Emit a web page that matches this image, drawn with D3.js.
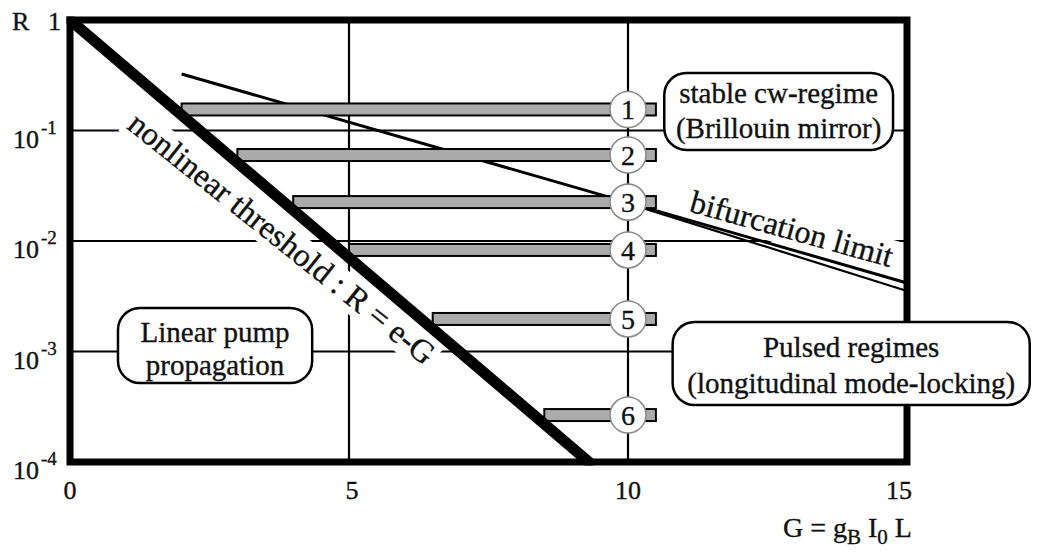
<!DOCTYPE html>
<html><head><meta charset="utf-8">
<script src="https://cdn.jsdelivr.net/npm/d3@7"></script>
<style>
body{margin:0;background:#fff;}
svg{display:block;font-family:"Liberation Serif","Times New Roman",serif;}
svg text{stroke:#111;stroke-width:0.35px;}
</style></head><body>
<svg id="chart" width="1037" height="557"></svg>
<script>
// ---- data ----
const xTicks = [0, 5, 10, 15];
const xTickLabels = ["0", "5", "10", "15"];
const yTicks = [1, 1e-1, 1e-2, 1e-3, 1e-4];
const yTickBase = ["1", "10", "10", "10", "10"];
const yTickExp = ["", "-1", "-2", "-3", "-4"];
const xGridValues = [5, 10];
const yGridValues = [1e-1, 1e-2, 1e-3];
const barIds = [1, 2, 3, 4, 5, 6];
const barStartG = [2.0, 3.0, 4.0, 5.0, 6.5, 8.5];
const barEndG = [10.5, 10.5, 10.5, 10.5, 10.5, 10.5];
const barR = [0.155, 0.060, 0.0225, 0.0083, 0.00197, 0.000266];
const markerG = 10;
const thresholdG = [0, 9.3];
const thresholdR = [1, 1e-4];
const bifurcationG = [2.0, 15];
const bifurcationR = [0.325, 0.00417];
const bifurcation2G = [9.5, 15];
const bifurcation2R = [0.0263, 0.00353];
const boxNames = ["stable", "linear", "pulsed"];
const boxG0 = [10.65, 0.86, 10.8];
const boxG1 = [14.75, 4.34, 17.2];
const boxRTop = [0.331, 0.00248, 0.00185];
const boxRBottom = [0.0667, 0.000519, 0.000328];
const boxLine1 = ["stable cw-regime", "Linear pump", "Pulsed regimes"];
const boxLine2 = ["(Brillouin mirror)", "propagation", "(longitudinal mode-locking)"];
const thresholdLabel = "nonlinear threshold : R = e-G";
const thresholdLabelG = 1.0, thresholdLabelR = 0.106;
const bifLabel = "bifurcation limit";
const bifLabelG = 11.08, bifLabelR = 0.0186;

// ---- layout ----
const svg = d3.select("#chart");
const x = d3.scaleLinear().domain([0, 15]).range([70, 907]);
const y = d3.scaleLog().domain([1e-4, 1]).range([462, 20]);

const defs = svg.append("defs");
defs.append("clipPath").attr("id", "plotclip").append("rect")
  .attr("x", x(0) - 3.5).attr("y", y(1) - 3.5)
  .attr("width", x(15) - x(0) + 7).attr("height", y(1e-4) - y(1) + 7);

const gGrid = svg.append("g");
const gBg = svg.append("g");
const gLines = svg.append("g");
const gBars = svg.append("g");
const gThresh = svg.append("g").attr("clip-path", "url(#plotclip)");
const gFrame = svg.append("g");
const gMarks = svg.append("g");
const gBoxes = svg.append("g");
const gText = svg.append("g");

// gridlines
gGrid.selectAll("line.h").data(yGridValues).join("line")
  .attr("x1", x(0)).attr("x2", x(15))
  .attr("y1", d => y(d)).attr("y2", d => y(d))
  .attr("stroke", "#000").attr("stroke-width", 2.2);
gGrid.selectAll("line.v").data(xGridValues).join("line")
  .attr("x1", d => x(d)).attr("x2", d => x(d))
  .attr("y1", y(1)).attr("y2", y(1e-4))
  .attr("stroke", "#000").attr("stroke-width", 2.2);

// bifurcation lines
const line = d3.line().x(d => x(d[0])).y(d => y(d[1]));
gLines.append("path").attr("d", line(d3.zip(bifurcationG, bifurcationR)))
  .attr("fill", "none").attr("stroke", "#000").attr("stroke-width", 3);
gLines.append("path").attr("d", line(d3.zip(bifurcation2G, bifurcation2R)))
  .attr("fill", "none").attr("stroke", "#000").attr("stroke-width", 2.2);

// bars
const bh = 12;
gBars.selectAll("rect").data(barIds).join("rect")
  .attr("x", (d, i) => x(barStartG[i]))
  .attr("y", (d, i) => y(barR[i]) - bh / 2)
  .attr("width", (d, i) => x(barEndG[i]) - x(barStartG[i]))
  .attr("height", bh)
  .attr("fill", "#ababab").attr("stroke", "#000").attr("stroke-width", 2);

// threshold line
gThresh.append("path").attr("d", line(d3.zip(thresholdG, thresholdR)))
  .attr("fill", "none").attr("stroke", "#000").attr("stroke-width", 11)
  .attr("stroke-linecap", "square");

// frame
gFrame.append("rect").attr("x", x(0)).attr("y", y(1))
  .attr("width", x(15) - x(0)).attr("height", y(1e-4) - y(1))
  .attr("fill", "none").attr("stroke", "#000").attr("stroke-width", 7);

// markers
gMarks.selectAll("circle").data(barIds).join("circle")
  .attr("cx", x(markerG)).attr("cy", (d, i) => y(barR[i]))
  .attr("r", 18).attr("fill", "#fff").attr("stroke", "#8c8c8c").attr("stroke-width", 1.6);
gMarks.selectAll("text").data(barIds).join("text")
  .attr("x", x(markerG)).attr("y", (d, i) => y(barR[i]) + 10)
  .attr("text-anchor", "middle").attr("font-size", 28).attr("fill", "#111")
  .text(d => d);

// boxes
boxNames.forEach((n, i) => {
  const bx0 = x(boxG0[i]), bx1 = x(boxG1[i]), by0 = y(boxRTop[i]), by1 = y(boxRBottom[i]);
  gBoxes.append("rect").attr("x", bx0).attr("y", by0)
    .attr("width", bx1 - bx0).attr("height", by1 - by0)
    .attr("rx", 22).attr("ry", 22)
    .attr("fill", "#fff").attr("stroke", "#000").attr("stroke-width", 2.5);
  const cx = (bx0 + bx1) / 2;
  const off1 = [30, 34, 35][i], off2 = [65, 67, 71][i];
  gBoxes.append("text").attr("x", cx).attr("y", by0 + off1)
    .attr("text-anchor", "middle").attr("font-size", 29).attr("fill", "#111").text(boxLine1[i]);
  gBoxes.append("text").attr("x", cx).attr("y", by0 + off2)
    .attr("text-anchor", "middle").attr("font-size", 29).attr("fill", "#111").text(boxLine2[i]);
});

// rotated labels with background
function rotLabel(txt, G, R, angle, size) {
  const tr = `translate(${x(G)},${y(R)}) rotate(${angle})`;
  const g = gText.append("g").attr("transform", tr);
  const t = g.append("text").attr("font-size", size).attr("fill", "#111").text(txt);
  const bb = t.node().getBBox();
  gBg.append("rect").attr("transform", tr)
    .attr("x", bb.x - 4).attr("y", bb.y + 2).attr("width", bb.width + 8).attr("height", bb.height - 2)
    .attr("fill", "#fff");
}
rotLabel(thresholdLabel, thresholdLabelG, thresholdLabelR, 38.6, 32.5);
rotLabel(bifLabel, bifLabelG, bifLabelR, 15.5, 32);

// axis tick labels
gText.selectAll("text.xt").data(xTicks).join("text").attr("class", "xt")
  .attr("x", d => x(d)).attr("y", y(1e-4) + 37)
  .attr("dx", d => d === 15 ? -8 : (d === 5 ? 3 : 0))
  .attr("text-anchor", "middle").attr("font-size", 26).attr("fill", "#111")
  .text((d, i) => xTickLabels[i]);

yTicks.forEach((v, i) => {
  if (i === 0) {
    gText.append("text").attr("x", 48).attr("y", y(v) + 10)
      .attr("font-size", 26).attr("fill", "#111").text(yTickBase[i]);
  } else {
    const t = gText.append("text").attr("x", 13).attr("y", y(v) + 17)
      .attr("font-size", 26).attr("fill", "#111");
    t.append("tspan").text(yTickBase[i]);
    t.append("tspan").attr("font-size", 19).attr("dx", 2).attr("dy", -14).text(yTickExp[i]);
  }
});
gText.append("text").attr("x", 12).attr("y", y(1) + 10)
  .attr("font-size", 26).attr("fill", "#111").text("R");

// x axis title
const xt = gText.append("text").attr("x", 783).attr("y", 537)
  .attr("font-size", 28).attr("fill", "#111");
xt.append("tspan").text("G = g");
xt.append("tspan").attr("font-size", 21).attr("dy", 7).text("B");
xt.append("tspan").attr("dy", -7).text(" I");
xt.append("tspan").attr("font-size", 21).attr("dy", 7).text("0");
xt.append("tspan").attr("dy", -7).text(" L");
</script>
</body></html>
